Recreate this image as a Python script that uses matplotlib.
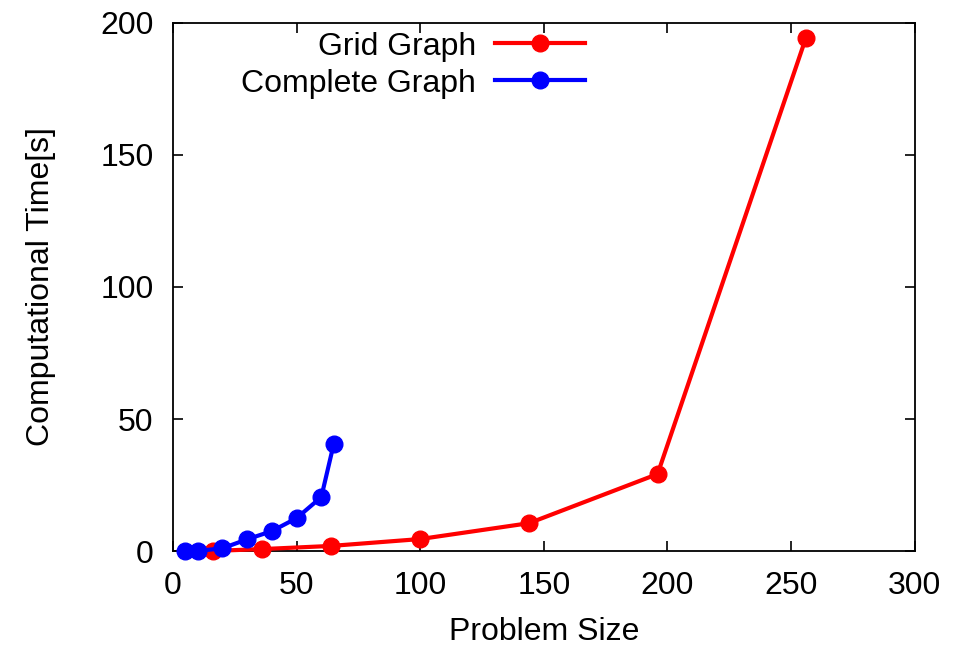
import matplotlib
matplotlib.use("Agg")
import matplotlib.pyplot as plt
from matplotlib.legend import Legend

plt.rcParams['font.family'] = ['Liberation Sans', 'DejaVu Sans']

grid_x = [16, 36, 64, 100, 144, 196, 256]
grid_y = [0.1, 0.8, 2.0, 4.6, 10.6, 29.2, 194.3]
comp_x = [5, 10, 20, 30, 40, 50, 60, 65]
comp_y = [0.05, 0.1, 1.1, 4.5, 7.6, 12.5, 20.5, 40.5]

xticks = [0, 50, 100, 150, 200, 250, 300]
yticks = [0, 50, 100, 150, 200]

FS = 23

fig = plt.figure(figsize=(9.69, 6.5), dpi=100)
ax = fig.add_axes([0.1785, 0.152, 0.7655, 0.813])

l1, = ax.plot(grid_x, grid_y, color='#ff0000', lw=3, marker='o', ms=12, label='Grid Graph', clip_on=False, zorder=3)
l2, = ax.plot(comp_x, comp_y, color='#0000ff', lw=3, marker='o', ms=12, label='Complete Graph', clip_on=False, zorder=4)

ax.set_xlim(0, 300)
ax.set_ylim(0, 200)
ax.set_xticks(xticks)
ax.set_yticks(yticks)
ax.tick_params(direction='in', top=True, right=True, length=7, width=1.2, labelsize=FS)
ax.tick_params(axis='x', pad=14)
ax.tick_params(axis='y', pad=14)
for s in ax.spines.values():
    s.set_linewidth(1.3)

ax.set_xlabel('Problem Size', fontsize=FS, labelpad=12)
ax.set_ylabel('Computational Time[s]', fontsize=FS, labelpad=32)

for line, yy in [(l1, 0.955), (l2, 0.885)]:
    lg = Legend(ax, [line], [line.get_label()], loc='center right', bbox_to_anchor=(0.555, yy),
                bbox_transform=ax.transAxes, markerfirst=False, frameon=False, fontsize=FS,
                handlelength=2.8, handletextpad=0.6, borderpad=0, borderaxespad=0)
    ax.add_artist(lg)

fig.savefig('out.png', dpi=100)
